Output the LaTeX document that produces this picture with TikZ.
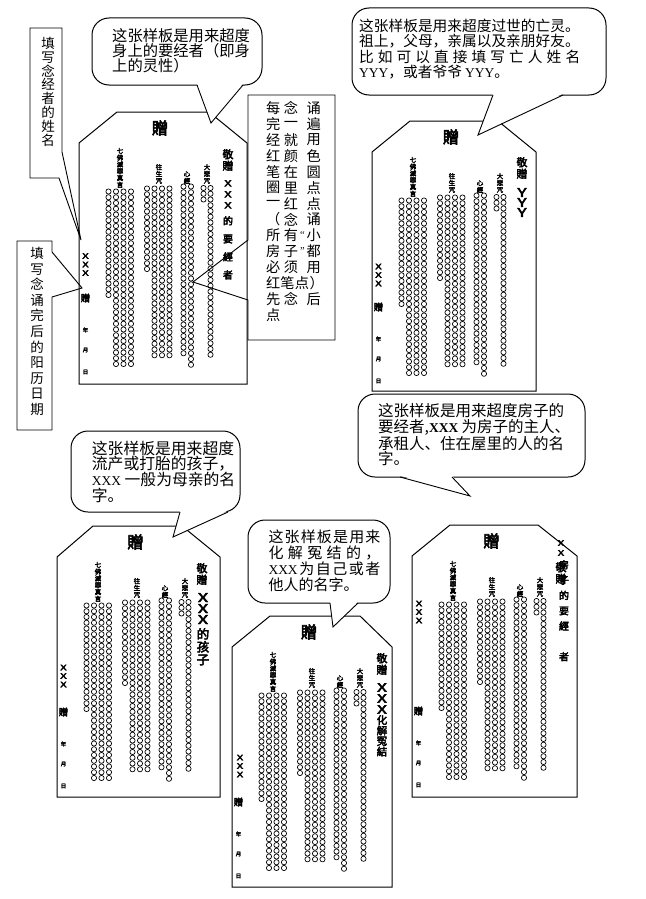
\documentclass[tikz,border=0pt]{standalone}
\usepackage{fontspec}
\setmainfont{Liberation Serif}
\newfontfamily\cjk{Noto Sans CJK SC}
\newfontfamily\cjkb[FakeBold=3.5]{Noto Sans CJK SC}
\newcommand{\lat}[1]{{\rmfamily\fontsize{13.5}{15}\selectfont #1}}
\newcommand{\wx}{\scalebox{1.5}[1]{X}}
\newcommand{\wy}{\scalebox{1.4}[1]{Y}}
\newcommand{\dotcol}[3]{\foreach \i in {1,...,#3} \draw[dot] (#1,{#2+5.75*(\i-1)}) circle[radius=2.6pt];}
\newcommand{\tablet}[7]{%
\begin{scope}[shift={(#2,#3)}]
\draw[panelline] (0,0) -- (#6,-31) -- ({#4-#7},-31) -- (#4,0) -- (#4,#5) -- (0,#5) -- cycle;
\node[ttl] (#1t) at ({#4/2-3},-15) {贈};
\dotcol{29.5}{48.5}{19}\dotcol{37}{48.5}{31}\dotcol{44.5}{48.5}{31}\dotcol{52}{48.5}{31}
\dotcol{68}{45.5}{15}\dotcol{75.5}{45.5}{30}\dotcol{83}{45.5}{30}\dotcol{90.5}{45.5}{30}
\dotcol{104.5}{43.5}{30}\dotcol{112}{43.5}{32}
\dotcol{124.5}{45}{3}\dotcol{131.5}{45}{30}
\node[hdr,anchor=south] (#1h1) at (41,45) {七\\佛\\滅\\罪\\真\\言};
\node[hdr,anchor=south] (#1h2) at (80,41) {往\\生\\咒};
\node[hdr,anchor=south] (#1h3) at (108,41) {心\\經};
\node[hdr,anchor=south] (#1h4) at (128,41) {大\\悲\\咒};
\node[lz] (#1z) at (6.5,155) {贈};
\node[tny] (#1y) at (6.5,187) {年};
\node[tny] (#1m) at (6.5,207) {月};
\node[tny] (#1d) at (6.5,229) {日};
\end{scope}}
\begin{document}
\begin{tikzpicture}[x=1pt,y=-1pt,
  line/.style={draw=black,line width=0.9pt},
  panelline/.style={draw=black,line width=1pt,fill=white},
  dot/.style={draw=black,line width=0.7pt},
  hdr/.style={font=\cjkb\fontsize{6.5}{6.8}\selectfont,align=center,inner sep=0pt},
  ttl/.style={font=\cjkb\fontsize{16.5}{16.5}\selectfont,inner sep=0pt},
  jing/.style={font=\cjkb\fontsize{11}{11.5}\selectfont,align=center,inner sep=0pt},
  lz/.style={font=\cjkb\fontsize{9.5}{9.5}\selectfont,inner sep=0pt},
  lx/.style={font=\cjkb\fontsize{7.5}{8.5}\selectfont,align=center,inner sep=0pt},
  tny/.style={font=\cjkb\fontsize{5.5}{6}\selectfont,inner sep=0pt},
  rc/.style={font=\cjkb\fontsize{10}{15.3}\selectfont,align=center,inner sep=0pt},
  bub/.style={draw=black,line width=1pt,fill=white,rounded corners=17pt},
  btxt/.style={align=left,inner sep=0pt,anchor=north west},
  vt/.style={font=\cjk\fontsize{13.5}{13.8}\selectfont,align=center,inner sep=0pt},
  mt/.style={font=\cjk\fontsize{14.2}{14.2}\selectfont,inner sep=0pt},
]
\useasboundingbox (0,0) rectangle (645,899);
\fill[white] (0,0) rectangle (645,899);

% ---------- tablets ----------
\tablet{pa}{79}{143}{168}{241}{38}{38}
\begin{scope}[shift={(79,143)}]
 \node[jing,anchor=north] (paj) at (149,6) {敬\\贈};
 \node[rc,anchor=north,font=\cjkb\fontsize{8.5}{11}\selectfont] (pax) at (149,37) {\wx\\\wx\\\wx};
 \node[rc,anchor=north,font=\cjkb\fontsize{10}{18}\selectfont] (pan) at (149,73) {的\\要\\經\\者};
 \node[lx] (pal) at (6.5,121.5) {\wx\\\wx\\\wx};
\end{scope}

\tablet{pb}{372}{152}{164}{239}{38}{38}
\begin{scope}[shift={(372,152)}]
 \node[jing,anchor=north] (pbj) at (150,5) {敬\\贈};
 \node[font=\cjkb\fontsize{12}{10}\selectfont,align=center,inner sep=0pt,anchor=north] (pbn) at (150,36) {\wy\\\wy\\\wy};
 \node[lx] (pbl) at (6.5,123) {\wx\\\wx\\\wx};
\end{scope}

\tablet{pc}{57}{557}{163}{240}{36}{38}
\begin{scope}[shift={(57,557)}]
 \node[jing,anchor=north] (pcj) at (145,6) {敬\\贈};
 \node[font=\cjkb\fontsize{12}{11}\selectfont,align=center,inner sep=0pt,anchor=north] (pcn) at (146,36) {\wx\\\wx\\\wx};
 \node[font=\cjkb\fontsize{12.5}{12.8}\selectfont,align=center,inner sep=0pt,anchor=north] (pcm) at (146,71) {的\\孩\\子};
 \node[lx] (pcl) at (6.5,119) {\wx\\\wx\\\wx};
\end{scope}

\tablet{pd}{232}{647}{160}{240}{38}{32}
\begin{scope}[shift={(232,647)}]
 \node[jing,anchor=north] (pdj) at (150,6) {敬\\贈};
 \node[font=\cjkb\fontsize{11.5}{11}\selectfont,align=center,inner sep=0pt,anchor=north] (pdn) at (150,36) {\wx\\\wx\\\wx};
 \node[font=\cjkb\fontsize{10.5}{10.5}\selectfont,align=center,inner sep=0pt,anchor=north] (pdm) at (150,68) {化\\解\\冤\\結};
 \node[lx] (pdl) at (8,119) {\wx\\\wx\\\wx};
\end{scope}

\tablet{pe}{412}{556}{165}{241}{38}{39}
\begin{scope}[shift={(412,556)}]
 \node[jing,anchor=north] (pej) at (149,6) {敬\\贈};
 \node[lx,font=\cjkb\fontsize{7.5}{10}\selectfont,anchor=north] (pex) at (149,-16) {\wx\\\wx};
 \node[rc,anchor=north] (pen) at (152,4) {房\\子\\的\\要\\經\\\\者};
 \node[lx] (pel) at (7,56) {\wx\\\wx\\\wx};
\end{scope}

% ---------- side labels ----------
\draw[line] (30,28) -- (62,28) -- (62,152) -- (81,240) coordinate (l1tip) -- (59,178) -- (30,178) -- cycle;
\node[vt,anchor=north] (l1t) at (48,37) {填\\写\\念\\经\\者\\的\\姓\\名};

\draw[line] (17,241) -- (52,241) -- (52,252) -- (82,288) coordinate (l2tip) -- (52,297) -- (52,430) -- (17,430) -- cycle;
\node[vt,anchor=north,font=\cjk\fontsize{13.5}{15.6}\selectfont] (l2t) at (37,247) {填\\写\\念\\诵\\完\\后\\的\\阳\\历\\日\\期};

% ---------- middle instruction box ----------
\draw[line] (248,95) -- (335,95) -- (335,340) -- (248,340) -- (248,300) -- (193,282) coordinate (mtip) -- (248,240) -- cycle;
\foreach \a/\b/\c [count=\k] in {每/念/诵,完/一/遍,经/就/用,红/颜/色,笔/在/圆,圈/里/点,一/红/点,（/念/诵,所/有/小,房/子/都,必/须/用} {
  \node[mt] (ma\k) at (273.3,{108.3+15.9*(\k-1)}) {\a};
  \node[mt] (mb\k) at (291,{108.3+15.9*(\k-1)}) {\b};
  \node[mt] (mc\k) at (313.8,{108.3+15.9*(\k-1)}) {\c};
}
\node[mt,font=\rmfamily\fontsize{10.5}{10.5}\selectfont] (mq1) at (302.4,{108.3+15.9*8}) {“};
\node[mt,font=\rmfamily\fontsize{10.5}{10.5}\selectfont] (mq2) at (302.4,{108.3+15.9*9}) {”};
\node[mt] (ma12) at (273.3,{108.3+15.9*11}) {红};
\node[mt] (mb12) at (287.5,{108.3+15.9*11}) {笔};
\node[mt] (md12) at (302,{108.3+15.9*11}) {点};
\node[mt,anchor=west] (mc12) at (309.5,{108.3+15.9*11}) {）};
\node[mt] (ma13) at (273.3,{108.3+15.9*12}) {先};
\node[mt] (mb13) at (291,{108.3+15.9*12}) {念};
\node[mt] (mc13) at (313.8,{108.3+15.9*12}) {后};
\node[mt] (ma14) at (273.3,{108.3+15.9*13}) {点};

% ---------- callouts ----------
% C1
\draw[bub] (92,18) rectangle (262,85);
\coordinate (c1tip) at (211,123);
\fill[white] (197,83.6) -- (c1tip) -- (243,83.6) -- cycle;
\draw[line] (197,85) -- (c1tip) -- (243,85);
\node[btxt,font=\cjk\fontsize{15.3}{15.3}\selectfont] (c1t) at (112,28) {这张样板是用来超度\\身上的要经者（即身\\上的灵性）};

% C2
\draw[bub] (352,8) rectangle (606,95);
\coordinate (c2tip) at (478,135);
\fill[white] (493,93.6) -- (c2tip) -- (563,93.6) -- cycle;
\draw[line] (493,95) -- (c2tip) -- (563,95);
\node[btxt,font=\cjk\fontsize{14.7}{15.6}\selectfont] (c2t) at (359,18.5) {这张样板是用来超度过世的亡灵。\\祖上，父母，亲属以及亲朋好友。\\\makebox[221pt][s]{比\hfil 如\hfil 可\hfil 以\hfil 直\hfil 接\hfil 填\hfil 写\hfil 亡\hfil 人\hfil 姓\hfil 名}\\\lat{YYY}，或者爷爷 \lat{YYY}。};

% C3
\draw[bub] (358,394) rectangle (585,477);
\coordinate (c3tip) at (470,496);
\fill[white] (400,475.6) -- (c3tip) -- (452,475.6) -- cycle;
\draw[line] (400,477) -- (c3tip) -- (452,477);
\node[btxt,font=\cjk\fontsize{15.5}{15.2}\selectfont] (c3t) at (378,403.5) {这张样板是用来超度房子的\\要经者,\lat{\textbf{XXX}} 为房子的主人、\\承租人、住在屋里的人的名\\字。};

% C4
\draw[bub] (71,431) rectangle (240,512);
\coordinate (c4tip) at (173,537);
\fill[white] (180,510.6) -- (c4tip) -- (228,510.6) -- cycle;
\draw[line] (180,512) -- (c4tip) -- (228,512);
\node[btxt,font=\cjk\fontsize{15.8}{14.6}\selectfont] (c4t) at (91.7,440.5) {这张样板是用来超度\\流产或打胎的孩子，\\\lat{XXX} 一般为母亲的名\\字。};

% C5
\draw[bub] (248,520) rectangle (390,603);
\coordinate (c5tip) at (333,627);
\fill[white] (330,601.6) -- (c5tip) -- (358,601.6) -- cycle;
\draw[line] (330,603) -- (c5tip) -- (358,603);
\node[btxt,font=\cjk\fontsize{15}{16}\selectfont] (c5t) at (268.3,530) {\makebox[112pt][s]{这\hfil 张\hfil 样\hfil 板\hfil 是\hfil 用\hfil 来}\\\makebox[112pt][s]{化\hfil 解\hfil 冤\hfil 结\hfil 的\hfil ，}\\\makebox[112pt][s]{\lat{XXX}\hfil 为\hfil 自\hfil 己\hfil 或\hfil 者}\\他人的名字。};
\end{tikzpicture}
\end{document}
